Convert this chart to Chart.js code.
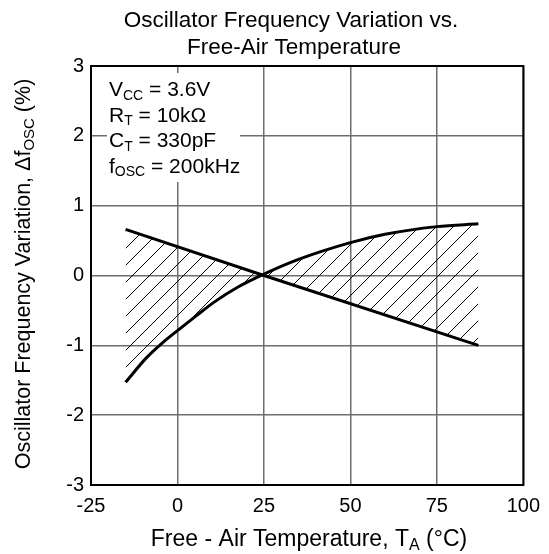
<!DOCTYPE html>
<html>
<head>
<meta charset="utf-8">
<script src="https://cdn.jsdelivr.net/npm/chart.js@4.4.1/dist/chart.umd.min.js"></script>
<style>
  html, body { margin: 0; padding: 0; background: #fff; }
  #wrap { width: 549px; height: 554px; }
</style>
</head>
<body>
<div id="wrap"><canvas id="chart"></canvas></div>
<script>
// curved boundary (rises with temperature)
const curveTemps = [-15, -9, -4, 0, 5.5, 10.5, 17.5, 25, 35, 50, 60, 75, 87]
const curveValues = [-1.53, -1.18, -0.95, -0.79, -0.575, -0.385, -0.165, 0.02, 0.23, 0.47, 0.59, 0.7, 0.74]
// straight boundary (falls with temperature)
const lineTemps = [-15, 25, 87]
const lineValues = [0.66, 0, -1.0]

const xTicks = [-25, 0, 25, 50, 75, 100]
const yTicks = [-3, -2, -1, 0, 1, 2, 3]

const titleLines = ["Oscillator Frequency Variation vs.", "Free-Air Temperature"]
// [text, isSubscript]
const xTitle = [["Free - Air Temperature, T", 0], ["A", 1], [" (°C)", 0]]
const yTitle = [["Oscillator Frequency Variation, Δf", 0], ["OSC", 1], [" (%)", 0]]
const noteLines = [
  [["V", 0], ["CC", 1], [" = 3.6V", 0]],
  [["R", 0], ["T", 1], [" = 10kΩ", 0]],
  [["C", 0], ["T", 1], [" = 330pF", 0]],
  [["f", 0], ["OSC", 1], [" = 200kHz", 0]],
]

const FONT = "'Liberation Sans', Arial, sans-serif"

function toXY(xs, ys) {
  return xs.map((x, i) => ({ x: x, y: ys[i] }))
}

function hatchPattern(ctx) {
  const s = 17
  const c = document.createElement("canvas")
  c.width = s
  c.height = s
  const g = c.getContext("2d")
  g.strokeStyle = "#000"
  g.lineWidth = 1
  g.beginPath()
  g.moveTo(-3, s + 3); g.lineTo(s + 3, -3)
  g.moveTo(-3, 3); g.lineTo(3, -3)
  g.moveTo(s - 3, s + 3); g.lineTo(s + 3, s - 3)
  g.stroke()
  return ctx.createPattern(c, "repeat")
}

function drawRich(ctx, parts, x, y, size, align) {
  const big = size + "px " + FONT
  const small = Math.round(size * 0.68) + "px " + FONT
  let w = 0
  parts.forEach(p => {
    ctx.font = p[1] ? small : big
    w += ctx.measureText(p[0]).width
  })
  let cx = align === "center" ? x - w / 2 : x
  ctx.textAlign = "left"
  ctx.textBaseline = "alphabetic"
  parts.forEach(p => {
    ctx.font = p[1] ? small : big
    ctx.fillText(p[0], cx, p[1] ? y + size * 0.17 : y)
    cx += ctx.measureText(p[0]).width
  })
}

const decor = {
  id: "decor",
  beforeDatasetsDraw(chart) {
    const ctx = chart.ctx
    // white box behind the conditions text
    ctx.save()
    ctx.fillStyle = "#fff"
    ctx.fillRect(107, 73, 133, 109)
    ctx.restore()
  },
  afterDraw(chart) {
    const ctx = chart.ctx
    const a = chart.chartArea
    ctx.save()
    ctx.strokeStyle = "#000"
    ctx.lineWidth = 2
    ctx.strokeRect(a.left, a.top, a.right - a.left, a.bottom - a.top)

    ctx.fillStyle = "#000"
    ctx.font = "22.5px " + FONT
    ctx.textAlign = "center"
    ctx.textBaseline = "alphabetic"
    ctx.fillText(titleLines[0], 291, 27)
    ctx.fillText(titleLines[1], 294, 54)

    noteLines.forEach((ln, i) => drawRich(ctx, ln, 109, 96 + i * 25.5, 21, "left"))

    drawRich(ctx, xTitle, 309, 546, 23, "center")

    ctx.translate(30, 274)
    ctx.rotate(-Math.PI / 2)
    drawRich(ctx, yTitle, 0, 0, 21.5, "center")
    ctx.restore()
  }
}

const canvas = document.getElementById("chart")
const ctx = canvas.getContext("2d")

new Chart(ctx, {
  type: "line",
  data: {
    datasets: [
      {
        data: toXY(lineTemps, lineValues),
        borderColor: "#000",
        borderWidth: 3,
        pointRadius: 0,
        tension: 0,
        fill: false,
      },
      {
        data: toXY(curveTemps, curveValues),
        borderColor: "#000",
        borderWidth: 3,
        pointRadius: 0,
        cubicInterpolationMode: "monotone",
        fill: 0,
        backgroundColor: hatchPattern(ctx),
      },
    ],
  },
  options: {
    responsive: true,
    maintainAspectRatio: false,
    animation: false,
    events: [],
    layout: { padding: { left: 0, top: 66, right: 20, bottom: 0 } },
    plugins: {
      legend: { display: false },
      tooltip: { enabled: false },
      title: { display: false },
    },
    scales: {
      x: {
        type: "linear",
        min: -25,
        max: 100,
        afterBuildTicks: s => { s.ticks = xTicks.map(v => ({ value: v })) },
        afterFit: s => { s.height = 69 },
        grid: { color: "#6e6e6e", lineWidth: 1.5, drawTicks: false },
        border: { display: false },
        ticks: {
          color: "#000",
          padding: 9,
          maxRotation: 0,
          font: { size: 20, family: FONT },
        },
      },
      y: {
        type: "linear",
        min: -3,
        max: 3,
        afterBuildTicks: s => { s.ticks = yTicks.map(v => ({ value: v })) },
        afterFit: s => { s.width = 91 },
        grid: { color: "#6e6e6e", lineWidth: 1.5, drawTicks: false },
        border: { display: false },
        ticks: {
          color: "#000",
          padding: 7,
          font: { size: 20, family: FONT },
        },
      },
    },
  },
  plugins: [decor],
})
</script>
</body>
</html>
